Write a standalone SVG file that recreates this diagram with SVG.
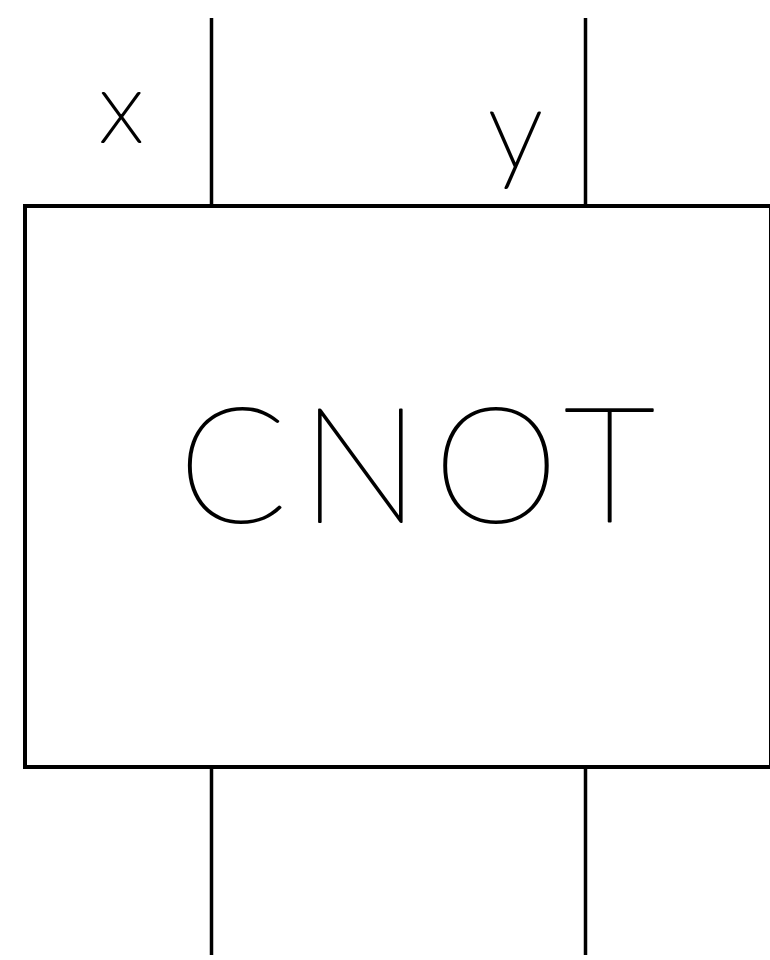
<svg xmlns="http://www.w3.org/2000/svg" width="770" height="960" viewBox="0 0 770 960">
<style>
.wire{stroke:#000;stroke-width:3.5;fill:none}
.box{stroke:#000;stroke-width:4;fill:#fff}
.lbl{font-family:Lato,Inter,"Open Sans","Liberation Sans",sans-serif;font-weight:100;fill:#000;stroke:#000;stroke-width:2;stroke-linejoin:round}
</style>
<rect width="770" height="960" fill="#fff"/>
<g id="connectors">
<line class="wire" x1="211.5" y1="18" x2="211.5" y2="206"/>
<line class="wire" x1="585.5" y1="18" x2="585.5" y2="206"/>
<line class="wire" x1="211.5" y1="767" x2="211.5" y2="955"/>
<line class="wire" x1="585.5" y1="767" x2="585.5" y2="955"/>
</g>
<g id="cnot">
<rect class="box" x="25" y="206" width="746" height="561"/>
<text class="lbl" x="178" y="522" font-size="160" textLength="477" lengthAdjust="spacing">CNOT</text>
</g>
<g id="label-x">
<text class="lbl" x="99" y="142" font-size="100">x</text>
</g>
<g id="label-y">
<text class="lbl" x="488" y="168" font-size="112">y</text>
</g>
</svg>
